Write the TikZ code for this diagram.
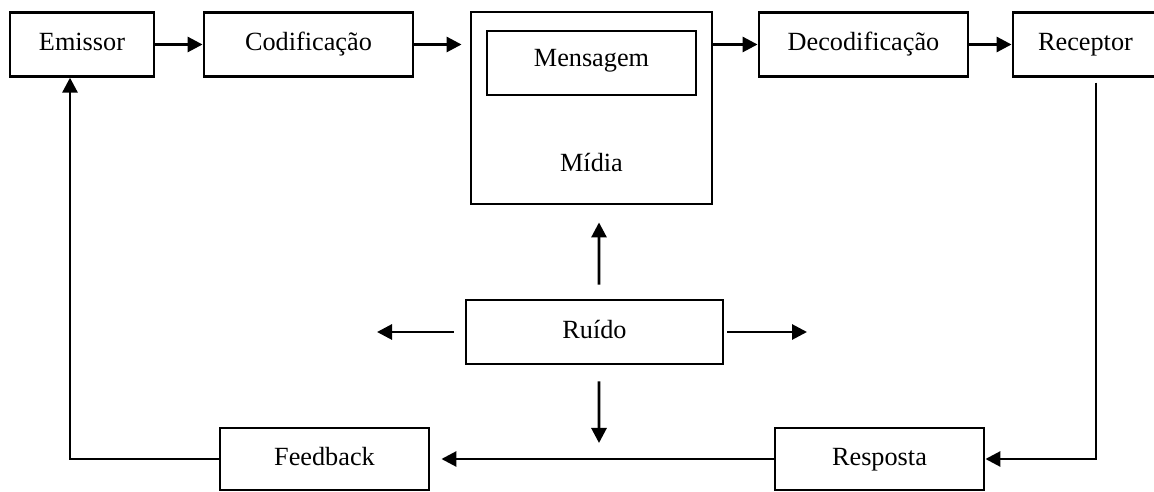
\documentclass[tikz,border=0pt]{standalone}
\usepackage{fontspec}
\setmainfont{Liberation Serif}
\usetikzlibrary{arrows.meta}

\begin{document}
\begin{tikzpicture}[x=0.4pt, y=-0.4pt, line width=1.15pt,
  texto/.style={inner sep=0pt, text height=7.5pt, text depth=2.3pt,
    font=\fontsize{10.5}{12}\selectfont},
  caixa/.style={texto, draw, minimum width=83.6pt, minimum height=25.4pt},
  seta/.style={-{Triangle[length=6pt,width=6pt]}}]
  \useasboundingbox (0,0) rectangle (1154,492);

  % linha de cima
  \node[caixa, minimum width=57.6pt] (emissor) at (82,44.5) {Emissor};
  \node[caixa] (codif) at (308.5,44.5) {Codificação};
  \node[caixa, minimum width=96.4pt, minimum height=76.8pt] (midia) at (591.5,108) {};
  \node[caixa, minimum height=25.6pt, text depth=4.8pt] (mensagem) at (591.5,63) {Mensagem};
  \node[texto] (midiatxt) at (591.5,165) {Mídia};
  \node[caixa] (decodif) at (863.5,44.5) {Decodificação};
  \node[caixa, minimum width=58pt] (receptor) at (1085.5,44.5) {Receptor};

  % ruido e retorno
  \node[caixa, minimum width=102.8pt, minimum height=25.6pt] (ruido) at (594.5,332) {Ruído};
  \node[caixa, minimum height=24.8pt] (feedback) at (324.5,459) {Feedback};
  \node[caixa, minimum height=24.8pt] (resposta) at (879.5,459) {Resposta};

  \coordinate (ruidoE) at (377,332);
  \coordinate (ruidoD) at (807,332);
  \coordinate (ruidoB) at (599,443);

  \draw[seta] (emissor) -- (codif);
  \draw[seta, shorten >=3.2pt] (codif) -- (midia.west |- codif);
  \draw[seta] (midia.east |- decodif) -- (decodif);
  \draw[seta] (decodif) -- (receptor);
  \draw[seta] ([xshift=4.2pt, yshift=-2pt]receptor.south) |- (resposta.east);
  \draw[seta, shorten >=4.4pt] (resposta) -- (feedback);
  \draw[seta] (feedback.west) -| ([xshift=-4.8pt]emissor.south);

  \draw[seta, shorten <=5.6pt, shorten >=6.8pt] ([xshift=1.8pt]ruido.north) -- ([xshift=3pt]midia.south);
  \draw[seta, shorten <=4.4pt] (ruido.west) -- (ruidoE);
  \draw[seta, shorten <=1.2pt] (ruido.east) -- (ruidoD);
  \draw[seta, shorten <=6.4pt] ([xshift=1.8pt]ruido.south) -- (ruidoB);
\end{tikzpicture}
\end{document}
